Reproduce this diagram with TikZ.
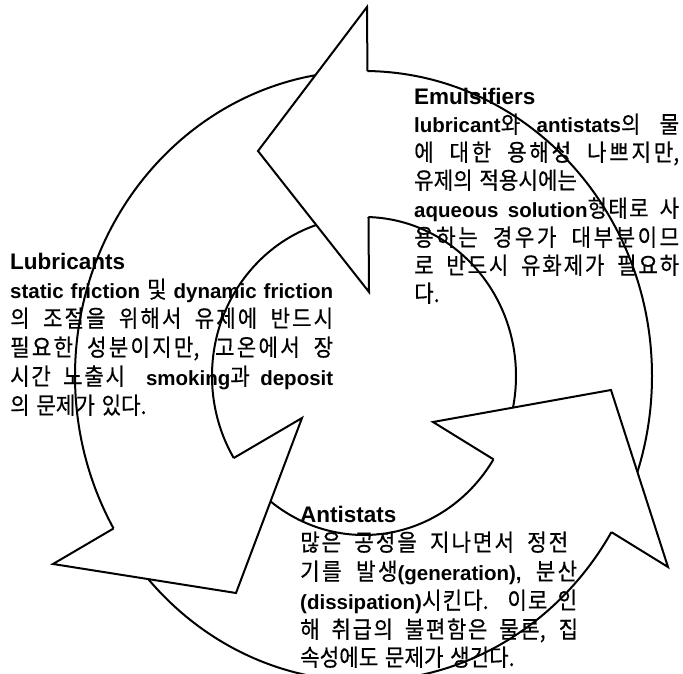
\documentclass[tikz,border=0pt]{standalone}
\usepackage{fontspec}
\setmainfont{Liberation Sans}
\newfontfamily\krfont{Noto Sans CJK KR}[Scale=1.15,FakeStretch=0.9,WordSpace=1.4,FakeBold=0.4]
\newcommand\kr{\krfont\mdseries}
\usetikzlibrary{intersections}
% stretchable glue between Hangul syllables (for justified lines)
\newcount\hgc
\hgc="AC00
\loop
  \XeTeXcharclass\hgc=7
  \advance\hgc by 1
\ifnum\hgc<"D7A4 \repeat
\XeTeXinterchartoks 7 7 = {\hskip 0pt plus 1pt\relax}
\XeTeXinterchartokenstate=1
\tikzset{
  ln/.style={line width=2pt, line join=miter},
  txt/.style={anchor=base west, inner sep=0pt, font=\fontsize{20.5}{26}\selectfont\bfseries},
  hdr/.style={anchor=base west, inner sep=0pt, font=\fontsize{22.5}{26}\selectfont\bfseries}
}
\begin{document}
\begin{tikzpicture}[x=1pt,y=-1pt]
\useasboundingbox (0,0) rectangle (683,674);
% arrowhead vertices
\coordinate (ta) at (367,7);   \coordinate (tt) at (258,151); \coordinate (tb) at (369,292);
\coordinate (la) at (302,418); \coordinate (lt) at (236,593); \coordinate (lb) at (53,564);
\coordinate (ra) at (433,422); \coordinate (rt) at (611,390); \coordinate (rb) at (668,567);
\coordinate (oc) at (363.5,376);
\coordinate (ic) at (364,376);
% helper paths
\path[name path=outerE] (oc) ellipse [x radius=288.5pt, y radius=305pt];
\path[name path=innerE] (ic) ellipse [x radius=152pt, y radius=159pt];
\path[name path=tbase] (ta) -- (tb);
\path[name path=lbase] (lb) -- (la);
\path[name path=rbase] (ra) -- (rb);
\path[name intersections={of=outerE and tbase, by=to}];
\path[name intersections={of=innerE and tbase, by=ti}];
\path[name intersections={of=outerE and lbase, by=lo}];
\path[name intersections={of=innerE and lbase, by=li}];
\path[name intersections={of=outerE and rbase, by=ro}];
\path[name intersections={of=innerE and rbase, by=ri}];
% arrow bodies (ring), hidden under the arrowheads
\begin{scope}[even odd rule]
\clip (0,0) rectangle (683,674)
  (ta) -- (tt) -- (tb) -- cycle
  (la) -- (lt) -- (lb) -- cycle
  (ra) -- (rt) -- (rb) -- cycle;
\draw[ln] (oc) ellipse [x radius=288.5pt, y radius=305pt];
\draw[ln] (ic) ellipse [x radius=152pt, y radius=159pt];
\end{scope}
% arrowheads
\draw[ln] (to) -- (ta) -- (tt) -- (tb) -- (ti);
\draw[ln] (lo) -- (lb) -- (lt) -- (la) -- (li);
\draw[ln] (ro) -- (rb) -- (rt) -- (ra) -- (ri);
% Emulsifiers
\node[hdr] (emu0) at (414,105) {Emulsifiers};
\node[txt] (emu1) at (414,133) {\makebox[265pt][s]{lubricant{\kr 와} antistats{\kr 의 물}}};
\node[txt] (emu2) at (414,161) {\makebox[265pt][s]{\kr 에 대한 용해성 나쁘지만,}};
\node[txt] (emu3) at (414,189) {\kr 유제의 적용시에는};
\node[txt] (emu4) at (414,217) {\makebox[265pt][s]{aqueous solution{\kr 형태로 사}}};
\node[txt] (emu5) at (414,246) {\makebox[265pt][s]{\kr 용하는 경우가 대부분이므}};
\node[txt] (emu6) at (414,274) {\makebox[265pt][s]{\kr 로 반드시 유화제가 필요하}};
\node[txt] (emu7) at (414,302) {\kr 다.};
% Lubricants
\node[hdr] (lub0) at (10,269) {Lubricants};
\node[txt] (lub1) at (10,298) {\makebox[323pt][s]{static friction {\kr 및} dynamic friction}};
\node[txt] (lub2) at (10,327) {\makebox[323pt][s]{\kr 의 조절을 위해서 유제에 반드시}};
\node[txt] (lub3) at (10,356) {\makebox[323pt][s]{\kr 필요한 성분이지만, 고온에서 장}};
\node[txt] (lub4) at (10,385) {\makebox[323pt][s]{{\kr 시간 노출시}\ \ smoking{\kr 과} deposit}};
\node[txt] (lub5) at (10,414) {\kr 의 문제가 있다.};
% Antistats
\node[hdr] (ant0) at (300,522) {Antistats};
\node[txt] (ant1) at (300,551) {\makebox[268pt][s]{\kr 많은 공정을 지나면서 정전}};
\node[txt] (ant2) at (300,580) {\makebox[277pt][s]{{\kr 기를 발생}(generation), {\kr 분산}}};
\node[txt] (ant3) at (300,609) {\makebox[277pt][s]{(dissipation){\kr 시킨다. 이로 인}}};
\node[txt] (ant4) at (300,638) {\makebox[278pt][s]{\kr 해 취급의 불편함은 물론, 집}};
\node[txt] (ant5) at (300,666) {\kr 속성에도 문제가 생긴다.};
\end{tikzpicture}
\end{document}
